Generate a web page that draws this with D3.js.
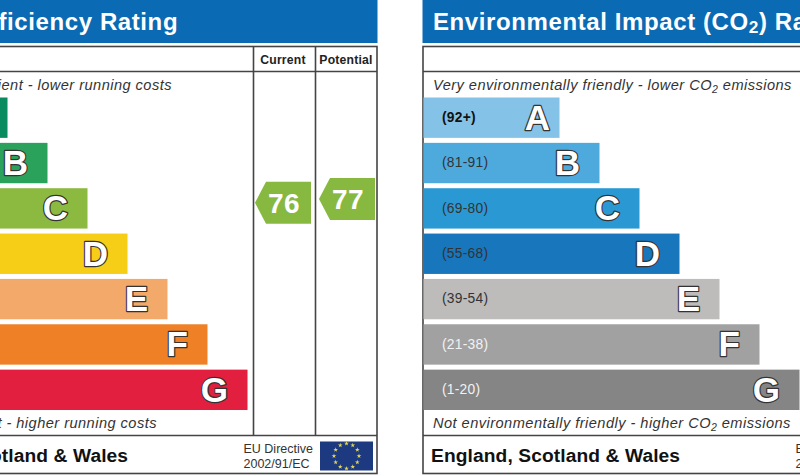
<!DOCTYPE html>
<html>
<head>
<meta charset="utf-8">
<title>EPC ratings</title>
<script src="https://cdn.jsdelivr.net/npm/d3@7/dist/d3.min.js"></script>
<style>
html, body { margin: 0; padding: 0; background: #fff; overflow: hidden; }
svg { display: block; font-family: "Liberation Sans", Arial, sans-serif; }
</style>
</head>
<body>
<svg id="chart" width="800" height="476"></svg>
<script>
const bands = ["A", "B", "C", "D", "E", "F", "G"];
const ranges = ["(92+)", "(81-91)", "(69-80)", "(55-68)", "(39-54)", "(21-38)", "(1-20)"];
const barLengths = [136, 176, 216, 256, 296, 336, 376];
const energyColors = ["#0a8a5f", "#2ba25b", "#8cba41", "#f6cd17", "#f3a96a", "#ef8026", "#e21f3e"];
const co2Colors = ["#85c2e7", "#4eaadd", "#2a99d3", "#1876bc", "#bdbcbb", "#a1a1a1", "#858585"];
const rangeColors = ["#111", "#333", "#333", "#333", "#333", "#f2f2f2", "#f2f2f2"];
const currentScore = 76;
const potentialScore = 77;
const starCount = d3.range(12);

const svg = d3.select("#chart");
const panelW = 507;

// bar positions, both panels use the same ones
const y = d3.scaleBand().domain(bands).range([97.5, 410]).paddingInner(0.11).paddingOuter(0).align(0);
const x = d3.scaleLinear().domain([0, panelW]).range([0, panelW]);
// score position, band C runs 69-80
const yScore = d3.scaleLinear().domain([69, 80]).range([228.5, 188]);

function drawPanel(left, opts) {
  const g = svg.append("g").attr("transform", `translate(${left},0)`);

  g.append("rect").attr("x", -0.5).attr("y", 0).attr("width", panelW).attr("height", 43).attr("fill", "#0a6ab3");
  g.append("text").attr("x", 10).attr("y", 30)
    .attr("fill", "#fff").attr("font-weight", "bold").attr("font-size", 24).attr("letter-spacing", 0.6)
    .call(t => opts.title(t));

  // frame
  g.append("rect").attr("x", 0).attr("y", 46.5).attr("width", panelW - 1).attr("height", 427)
    .attr("fill", "none").attr("stroke", "#444").attr("stroke-width", 1.6);
  [71.5, 435.5].forEach(v => {
    g.append("line").attr("x1", 0).attr("x2", panelW - 1).attr("y1", v).attr("y2", v)
      .attr("stroke", "#444").attr("stroke-width", 1.4);
  });
  [382.5, 444.5].forEach(v => {
    g.append("line").attr("x1", v).attr("x2", v).attr("y1", 46.5).attr("y2", 435.5)
      .attr("stroke", "#444").attr("stroke-width", 1.6);
  });
  g.selectAll("text.col").data(["Current", "Potential"]).join("text").attr("class", "col")
    .attr("x", (d, i) => i ? 475 : 412).attr("y", 63.5).attr("text-anchor", "middle")
    .attr("font-weight", "bold").attr("font-size", 12.2).attr("fill", "#222").attr("letter-spacing", 0.2)
    .text(d => d);

  const top = g.append("text").attr("x", 10).attr("y", 89.5);
  const bottom = g.append("text").attr("x", opts.bottomX).attr("y", 427.5);
  [top, bottom].forEach(t => t.attr("font-style", "italic").attr("font-size", 14.6).attr("fill", "#333").attr("letter-spacing", 0.46));
  opts.topNote(top);
  opts.bottomNote(bottom);

  g.selectAll("rect.bar").data(bands).join("rect").attr("class", "bar")
    .attr("x", 0.5).attr("y", d => y(d))
    .attr("width", (d, i) => x(barLengths[i]))
    .attr("height", y.bandwidth())
    .attr("fill", (d, i) => opts.colors[i]);

  g.selectAll("text.range").data(ranges).join("text").attr("class", "range")
    .attr("x", 19).attr("y", (d, i) => y(bands[i]) + y.bandwidth() / 2 + 4.3)
    .attr("font-size", 13.8).attr("font-weight", (d, i) => i === 0 ? "bold" : "normal")
    .attr("letter-spacing", 0.25).attr("fill", (d, i) => rangeColors[i])
    .text(d => d);

  g.selectAll("text.band").data(bands).join("text").attr("class", "band")
    .attr("x", (d, i) => x(barLengths[i]) - (d === "A" ? 9 : 19))
    .attr("y", d => y(d) + y.bandwidth() / 2 + 12)
    .attr("text-anchor", "end").attr("font-size", 35).attr("font-weight", "bold")
    .attr("fill", "#fff").attr("stroke", "#333").attr("stroke-width", 2.4)
    .attr("paint-order", "stroke").attr("stroke-linejoin", "round")
    .text(d => d);

  g.append("text").attr("x", 8).attr("y", 461.5)
    .attr("font-weight", "bold").attr("font-size", 19.2).attr("fill", "#111").attr("letter-spacing", 0.1)
    .text("England, Scotland & Wales");

  g.selectAll("text.eu").data(["EU Directive", "2002/91/EC"]).join("text").attr("class", "eu")
    .attr("x", 372.5).attr("y", (d, i) => 453 + i * 14.5)
    .attr("font-size", 12.5).attr("fill", "#333").text(d => d);

  g.append("rect").attr("x", 449).attr("y", 441.5).attr("width", 53).attr("height", 29).attr("fill", "#1d3a80");
  const star = d3.symbol().type(d3.symbolStar).size(7);
  g.selectAll("path.star").data(starCount).join("path").attr("class", "star")
    .attr("d", star).attr("fill", "#e6d84a")
    .attr("transform", d => {
      const a = d / 12 * 2 * Math.PI;
      return `translate(${475.5 + 12.5 * Math.sin(a)},${456 - 12.5 * Math.cos(a)})`;
    });

  return g;
}

function co2(t, before, after) {
  t.append("tspan").text(before);
  t.append("tspan").attr("font-size", "0.72em").attr("dy", 3).text("2");
  t.append("tspan").attr("dy", -3).text(after);
}

const left = drawPanel(-129, {
  colors: energyColors,
  bottomX: -4,
  title: t => t.text("Energy Efficiency Rating"),
  topNote: t => t.text("Very energy efficient - lower running costs"),
  bottomNote: t => t.text("Not energy efficient - higher running costs")
});

drawPanel(423, {
  colors: co2Colors,
  bottomX: 10,
  title: t => co2(t, "Environmental Impact (CO", ") Rating"),
  topNote: t => co2(t, "Very environmentally friendly - lower CO", " emissions"),
  bottomNote: t => co2(t, "Not environmentally friendly - higher CO", " emissions")
});

// score arrows in the energy panel
const arrow = (cx, cy) => {
  const w = 28, h = 21;
  return d3.line()([[cx - w, cy], [cx - w + 11, cy - h], [cx + w, cy - h], [cx + w, cy + h], [cx - w + 11, cy + h]]) + "Z";
};
[[currentScore, 412], [potentialScore, 476]].forEach(([score, cx]) => {
  const cy = yScore(score);
  left.append("path").attr("d", arrow(cx, cy)).attr("fill", "#87b83f");
  left.append("text").attr("x", cx + 1).attr("y", cy + 10).attr("text-anchor", "middle")
    .attr("font-size", 28).attr("font-weight", "bold").attr("fill", "#fff").attr("letter-spacing", 0.5)
    .text(score);
});
</script>
</body>
</html>
